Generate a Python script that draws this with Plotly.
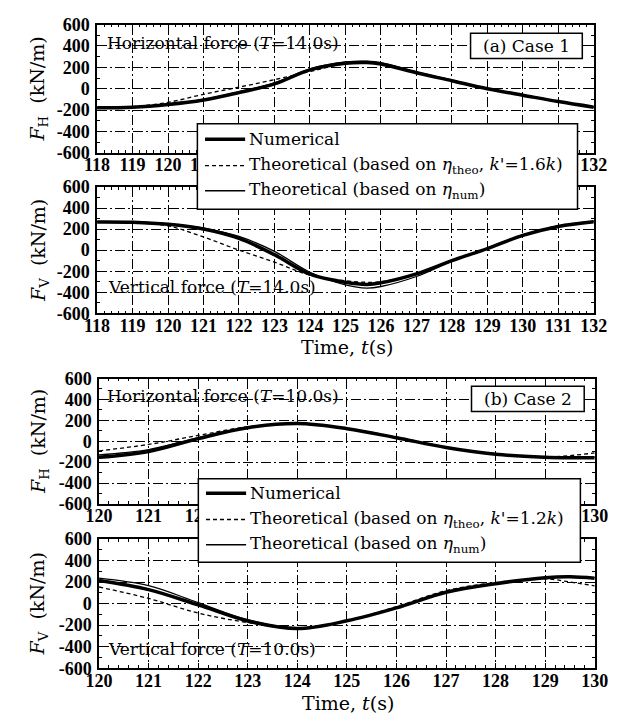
import plotly.graph_objects as go

W, H = 624, 722

# ---------------- data ----------------
# Case 1 (T = 14.0 s)
t_case1 = [118, 119, 120, 121, 122, 123, 124, 125, 125.6, 126, 127, 128, 129, 130, 131, 132]
fh1_num = [-178, -173, -148, -106, -36, 45, 176, 238, 245, 232, 150, 75, 0, -60, -120, -172]
fh1_thnum = [-178, -172, -145, -100, -28, 55, 185, 250, 258, 245, 158, 80, 3, -58, -118, -172]
fh1_theo = [-178, -168, -127, -52, 15, 85, 161, 236, 248, 238, 155, 78, 2, -58, -118, -172]
fv1_num = [268, 265, 245, 200, 111, -43, -228, -305, -325, -310, -225, -100, 15, 140, 225, 270]
fv1_thnum = [270, 268, 250, 210, 130, -12, -210, -330, -360, -345, -250, -105, 15, 140, 228, 272]
fv1_theo = [270, 262, 230, 125, 0, -114, -237, -290, -305, -300, -225, -100, 20, 145, 232, 275]

# Case 2 (T = 10.0 s)
t_case2 = [120, 121, 122, 123, 124, 125, 126, 127, 128, 129, 129.5, 130]
fh2_num = [-154, -98, 25, 129, 169, 120, 33, -60, -125, -153, -158, -158]
fh2_thnum = [-130, -80, 35, 132, 170, 122, 35, -58, -125, -150, -155, -152]
fh2_theo = [-92, -31, 55, 138, 169, 125, 40, -55, -125, -150, -138, -112]
fv2_num = [215, 130, -12, -161, -232, -160, -40, 105, 185, 240, 248, 235]
fv2_thnum = [236, 166, 9, -150, -228, -162, -42, 102, 183, 238, 248, 238]
fv2_theo = [154, 48, -88, -176, -230, -158, -28, 120, 195, 230, 200, 165]

y_ticks = [600, 400, 200, 0, -200, -400, -600]
y_ticktext = ["600", "400", "200", "0", "-200", "-400", "-600"]
x_ticks1 = list(range(118, 133))
x_ticks2 = list(range(120, 131))
# tick labels hidden behind the legend boxes in the upper panels
hidden1 = list(range(122, 132))
hidden2 = list(range(123, 130))

legend_names1 = ["Numerical",
                 "Theoretical (based on <i>η</i><sub>theo</sub>, <i>k</i>'=1.6<i>k</i>)",
                 "Theoretical (based on <i>η</i><sub>num</sub>)"]
legend_names2 = ["Numerical",
                 "Theoretical (based on <i>η</i><sub>theo</sub>, <i>k</i>'=1.2<i>k</i>)",
                 "Theoretical (based on <i>η</i><sub>num</sub>)"]

TICKFONT = "Liberation Serif"
TEXTFONT = "DejaVu Serif"


def px(x):
    return x / W


def py(y):
    return 1 - y / H


# panel pixel boxes: (x0, x1, ytop, ybottom)
panels = [
    (87, 607, 15, 147),
    (87, 607, 182, 312),
    (89, 608, 379, 508),
    (89, 608, 544, 677),
]

fig = go.Figure()

series = [
    (t_case1, fh1_num, fh1_thnum, fh1_theo),
    (t_case1, fv1_num, fv1_thnum, fv1_theo),
    (t_case2, fh2_num, fh2_thnum, fh2_theo),
    (t_case2, fv2_num, fv2_thnum, fv2_theo),
]

for i, (t, num, thnum, theo) in enumerate(series):
    xa = "x" if i == 0 else f"x{i+1}"
    ya = "y" if i == 0 else f"y{i+1}"
    fig.add_trace(go.Scatter(x=t, y=thnum, mode="lines", xaxis=xa, yaxis=ya,
                             line=dict(color="black", width=1.3, shape="spline", smoothing=1),
                             showlegend=False))
    fig.add_trace(go.Scatter(x=t, y=theo, mode="lines", xaxis=xa, yaxis=ya,
                             line=dict(color="black", width=1.3, dash="4px,3px", shape="spline", smoothing=1),
                             showlegend=False))
    fig.add_trace(go.Scatter(x=t, y=num, mode="lines", xaxis=xa, yaxis=ya,
                             line=dict(color="black", width=3.5, shape="spline", smoothing=1),
                             showlegend=False))

layout = dict(
    width=W, height=H,
    margin=dict(l=0, r=0, t=0, b=0),
    paper_bgcolor="white", plot_bgcolor="white",
    font=dict(family=TEXTFONT, size=17, color="black"),
    showlegend=False,
)

for i, (x0, x1, yt, yb) in enumerate(panels):
    xk = "xaxis" if i == 0 else f"xaxis{i+1}"
    yk = "yaxis" if i == 0 else f"yaxis{i+1}"
    xr = [118, 132] if i < 2 else [120, 130]
    xt = x_ticks1 if i < 2 else x_ticks2
    hidden = hidden1 if i == 0 else (hidden2 if i == 2 else [])
    xtext = ["" if v in hidden else str(v) for v in xt]
    layout[xk] = dict(
        domain=[px(x0), px(x1)], anchor="y" if i == 0 else f"y{i+1}",
        range=xr, tickvals=xt, ticktext=xtext,
        showline=True, mirror="allticks", linecolor="black", linewidth=1.5,
        ticks="inside", ticklen=5, tickwidth=1.2, tickcolor="black",
        minor=dict(dtick=0.2, ticks="inside", ticklen=3, tickwidth=1, tickcolor="black", showgrid=False),
        showgrid=True, gridcolor="black", gridwidth=1, griddash="10px,3px,2px,3px",
        zeroline=False, ticklabelstandoff=-5,
        tickfont=dict(family=TICKFONT, size=18, weight="bold"),
    )
    layout[yk] = dict(
        domain=[py(yb), py(yt)], anchor="x" if i == 0 else f"x{i+1}",
        range=[-600, 600], tickvals=y_ticks, ticktext=y_ticktext,
        showline=True, mirror="allticks", linecolor="black", linewidth=1.5,
        ticks="inside", ticklen=5, tickwidth=1.2, tickcolor="black",
        minor=dict(dtick=100, ticks="inside", ticklen=3, tickwidth=1, tickcolor="black", showgrid=False),
        showgrid=True, gridcolor="black", gridwidth=1, griddash="10px,3px,2px,3px",
        zeroline=False, ticklabelstandoff=2,
        tickfont=dict(family=TICKFONT, size=18, weight="bold"),
    )

fig.update_layout(**layout)

annotations = []
shapes = []

# y-axis titles
ytitles = ["<i>F</i><sub>H</sub>  (kN/m)", "<i>F</i><sub>V</sub>  (kN/m)",
           "<i>F</i><sub>H</sub>  (kN/m)", "<i>F</i><sub>V</sub>  (kN/m)"]
for (x0, x1, yt, yb), ttl in zip(panels, ytitles):
    annotations.append(dict(x=px(26), y=py((yt + yb) / 2), xref="paper", yref="paper",
                            text=ttl, textangle=-90, showarrow=False,
                            font=dict(family=TEXTFONT, size=19), xanchor="center", yanchor="middle"))

# x-axis titles
for yc, xc in [(347, 349), (713, 350)]:
    annotations.append(dict(x=px(xc), y=py(yc), xref="paper", yref="paper",
                            text="Time, <i>t</i>(s)", showarrow=False,
                            font=dict(family=TEXTFONT, size=19), xanchor="center", yanchor="middle"))

# in-panel labels
labels = [("Horizontal force (<i>T</i>=14.0s)", 95, 34),
          ("Vertical force (<i>T</i>=14.0s)", 96, 285),
          ("Horizontal force (<i>T</i>=10.0s)", 95, 397),
          ("Vertical force (<i>T</i>=10.0s)", 96, 657)]
for txt, xl, yc in labels:
    annotations.append(dict(x=px(xl), y=py(yc), xref="paper", yref="paper",
                            text=txt, showarrow=False, font=dict(family=TEXTFONT, size=17),
                            xanchor="left", yanchor="middle"))

# case boxes
for txt, (bx0, by0, bx1, by1) in [("(a) Case 1", (478, 24, 595, 50)),
                                  ("(b) Case 2", (479, 387, 597, 413))]:
    shapes.append(dict(type="rect", xref="paper", yref="paper",
                       x0=px(bx0), x1=px(bx1), y0=py(by1), y1=py(by0),
                       line=dict(color="black", width=1.5), fillcolor="white", layer="above"))
    annotations.append(dict(x=px((bx0 + bx1) / 2), y=py((by0 + by1) / 2), xref="paper", yref="paper",
                            text=txt, showarrow=False, font=dict(family=TEXTFONT, size=17),
                            xanchor="center", yanchor="middle"))

# legends
for names, (lx0, ly0, lx1, ly1), rows in [
        (legend_names1, (192, 117, 590, 205), (133, 160, 186)),
        (legend_names2, (193, 482, 593, 568), (497, 524, 550))]:
    shapes.append(dict(type="rect", xref="paper", yref="paper",
                       x0=px(lx0), x1=px(lx1), y0=py(ly1), y1=py(ly0),
                       line=dict(color="black", width=1.5), fillcolor="white", layer="above"))
    styles = [dict(color="black", width=3.5),
              dict(color="black", width=1.3, dash="4px,3px"),
              dict(color="black", width=1.5)]
    for name, ry, st in zip(names, rows, styles):
        shapes.append(dict(type="line", xref="paper", yref="paper",
                           x0=px(lx0 + 8), x1=px(lx0 + 50), y0=py(ry), y1=py(ry),
                           line=st, layer="above"))
        annotations.append(dict(x=px(lx0 + 52), y=py(ry), xref="paper", yref="paper",
                                text=name, showarrow=False, font=dict(family=TEXTFONT, size=17),
                                xanchor="left", yanchor="middle"))

fig.update_layout(annotations=annotations, shapes=shapes)

fig.write_html("out.html")
